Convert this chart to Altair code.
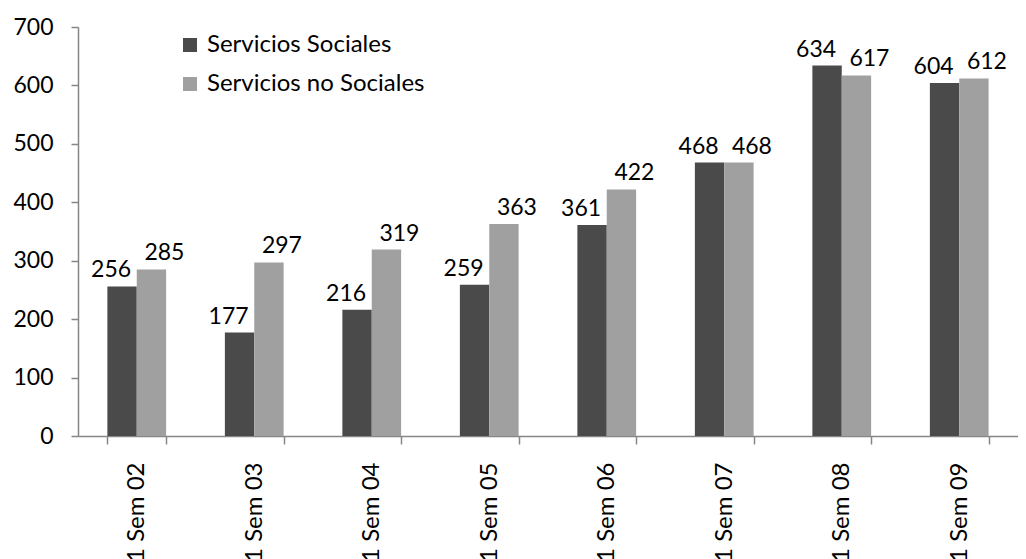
import altair as alt
import pandas as pd

categories = ["1 Sem 02", "1 Sem 03", "1 Sem 04", "1 Sem 05", "1 Sem 06", "1 Sem 07", "1 Sem 08", "1 Sem 09"]
series_names = ["Servicios Sociales", "Servicios no Sociales"]
sociales = [256, 177, 216, 259, 361, 468, 634, 604]
no_sociales = [285, 297, 319, 363, 422, 468, 617, 612]
colors = ["#4a4a4a", "#a0a0a0"]

rows = []
for c, a, b in zip(categories, sociales, no_sociales):
    rows.append({"cat": c, "serie": series_names[0], "valor": a})
    rows.append({"cat": c, "serie": series_names[1], "valor": b})
df = pd.DataFrame(rows)

FONT = "Lato"
FS = 23

x = alt.X("cat:N", sort=categories, title=None,
          scale=alt.Scale(paddingInner=0.5, paddingOuter=0.25),
          axis=alt.Axis(labelAngle=-90, labelFontSize=24, labelFont=FONT, labelColor="#000",
                        domainColor="#868686", tickColor="#868686", tickSize=8,
                        tickBand="extent", labelPadding=18, domainWidth=1.5, tickWidth=1.5,
                        labelLimit=0))
y = alt.Y("valor:Q", title=None,
          scale=alt.Scale(domain=[0, 700]),
          axis=alt.Axis(values=[0, 100, 200, 300, 400, 500, 600, 700], grid=False,
                        labelFontSize=FS, labelFont=FONT, labelColor="#000",
                        domainColor="#868686", tickColor="#868686", tickSize=7,
                        labelPadding=18, domainWidth=1.5, tickWidth=1.5))
xo = alt.XOffset("serie:N", sort=series_names, scale=alt.Scale(paddingInner=0, paddingOuter=0))

bars = alt.Chart(df).mark_bar().encode(
    x=x, y=y, xOffset=xo,
    color=alt.Color("serie:N", sort=series_names,
                    scale=alt.Scale(domain=series_names, range=colors),
                    legend=alt.Legend(title=None, orient="none", legendX=100, legendY=6,
                                      symbolType="square", symbolSize=196, symbolStrokeWidth=0,
                                      labelFontSize=24, labelFont=FONT, labelColor="#000",
                                      rowPadding=15, labelOffset=5, labelLimit=0))
)

labels_a = alt.Chart(df).transform_filter(
    alt.datum.serie == series_names[0]
).mark_text(baseline="alphabetic", dy=-9, dx=-11, fontSize=FS, font=FONT, color="#000").encode(
    x=x, y=y, xOffset=xo, text="valor:Q"
)
labels_b = alt.Chart(df).transform_filter(
    alt.datum.serie == series_names[1]
).mark_text(baseline="alphabetic", dy=-9, dx=13, fontSize=FS, font=FONT, color="#000").encode(
    x=x, y=y, xOffset=xo, text="valor:Q"
)

chart = (bars + labels_a + labels_b).properties(
    width=940, height=409,
    autosize=alt.AutoSizeParams(type="none"),
    padding={"left": 70, "top": 19, "right": 0, "bottom": 200},
).configure_view(stroke=None)

chart.save("out.html", embed_options={"renderer": "svg", "actions": False})
